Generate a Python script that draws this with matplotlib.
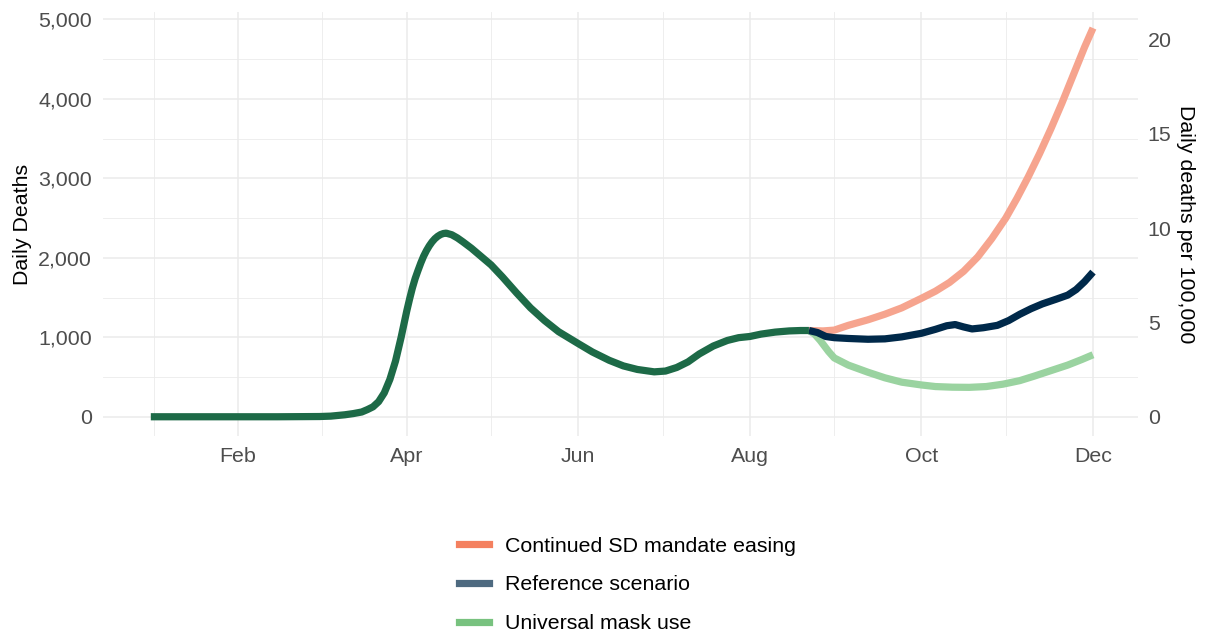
import numpy as np
import pandas as pd
import matplotlib
matplotlib.use("Agg")
import matplotlib.pyplot as plt
import matplotlib.dates as mdates
from matplotlib.lines import Line2D
from matplotlib.ticker import FuncFormatter

plt.rcParams['font.family'] = ['Liberation Sans', 'DejaVu Sans']

# observed daily deaths (2020)
hist_dates = ["2020-01-01", "2020-01-15", "2020-02-01", "2020-02-15", "2020-03-01",
              "2020-03-05", "2020-03-10", "2020-03-13", "2020-03-16", "2020-03-18",
              "2020-03-20", "2020-03-22", "2020-03-24", "2020-03-26", "2020-03-28",
              "2020-03-29", "2020-03-30", "2020-03-31", "2020-04-01", "2020-04-02",
              "2020-04-03", "2020-04-04", "2020-04-05", "2020-04-06", "2020-04-07",
              "2020-04-08", "2020-04-09", "2020-04-10", "2020-04-11", "2020-04-12",
              "2020-04-13", "2020-04-14", "2020-04-15", "2020-04-17", "2020-04-19",
              "2020-04-21", "2020-04-24", "2020-04-27", "2020-05-01", "2020-05-05",
              "2020-05-10", "2020-05-15", "2020-05-20", "2020-05-25", "2020-06-01",
              "2020-06-06", "2020-06-12", "2020-06-17", "2020-06-22", "2020-06-28",
              "2020-07-02", "2020-07-06", "2020-07-10", "2020-07-14", "2020-07-19",
              "2020-07-24", "2020-07-28", "2020-08-01", "2020-08-05", "2020-08-10",
              "2020-08-15", "2020-08-19", "2020-08-22"]
hist_deaths = [0, 0, 0, 0, 3,
               8, 25, 40, 60, 90,
               125, 190, 300, 470, 700,
               850, 1000, 1165, 1330, 1480,
               1620, 1740, 1840, 1935, 2020,
               2090, 2150, 2200, 2240, 2270,
               2292, 2305, 2310, 2290, 2250,
               2200, 2120, 2030, 1910, 1760,
               1560, 1370, 1210, 1070, 920,
               815, 710, 640, 595, 565,
               575, 620, 690, 790, 890,
               960, 995, 1010, 1040, 1065,
               1080, 1085, 1085]

# scenario projections
easing_dates = ["2020-08-22", "2020-08-27", "2020-08-31", "2020-09-05", "2020-09-12",
                "2020-09-18", "2020-09-24", "2020-10-01", "2020-10-06", "2020-10-11",
                "2020-10-16", "2020-10-21", "2020-10-26", "2020-10-31", "2020-11-04",
                "2020-11-08", "2020-11-12", "2020-11-16", "2020-11-20", "2020-11-24",
                "2020-11-28", "2020-12-01"]
easing_deaths = [1085, 1080, 1090, 1150, 1220,
                 1290, 1370, 1490, 1580, 1690,
                 1830, 2010, 2240, 2500, 2750,
                 3020, 3310, 3620, 3950, 4300,
                 4650, 4890]

ref_dates = ["2020-08-22", "2020-08-25", "2020-08-28", "2020-08-31", "2020-09-05",
             "2020-09-12", "2020-09-18", "2020-09-24", "2020-10-01", "2020-10-06",
             "2020-10-10", "2020-10-13", "2020-10-16", "2020-10-19", "2020-10-23",
             "2020-10-28", "2020-11-01", "2020-11-05", "2020-11-09", "2020-11-13",
             "2020-11-18", "2020-11-22", "2020-11-25", "2020-11-28", "2020-12-01"]
ref_deaths = [1085, 1060, 1010, 995, 985,
              975, 980, 1005, 1050, 1100,
              1145, 1160, 1130, 1105, 1120,
              1150, 1210, 1290, 1360, 1420,
              1480, 1530, 1600, 1700, 1820]

mask_dates = ["2020-08-22", "2020-08-24", "2020-08-26", "2020-08-29", "2020-08-31",
              "2020-09-05", "2020-09-12", "2020-09-18", "2020-09-24", "2020-10-01",
              "2020-10-06", "2020-10-12", "2020-10-18", "2020-10-24", "2020-10-30",
              "2020-11-05", "2020-11-10", "2020-11-16", "2020-11-22", "2020-11-27",
              "2020-12-01"]
mask_deaths = [1085, 1040, 960, 820, 740,
               650, 560, 490, 435, 400,
               380, 372, 370, 380, 410,
               455, 510, 580, 650, 720,
               780]

scenario_labels = ["Continued SD mandate easing", "Reference scenario", "Universal mask use"]
deaths_per_100k = 237.4  # deaths that make 1 per 100,000

W, H = 1205, 634
fs = 15.4
fig = plt.figure(figsize=(W / 100, H / 100), dpi=100)
ax = fig.add_axes([103 / W, 1 - 436 / H, (1138 - 103) / W, (436 - 12) / H])

ax.plot(pd.to_datetime(easing_dates), easing_deaths, color='#F6A48E', lw=5.2,
        solid_capstyle='butt', solid_joinstyle='round', zorder=3)
ax.plot(pd.to_datetime(mask_dates), mask_deaths, color='#9AD3A0', lw=5.2,
        solid_capstyle='butt', solid_joinstyle='round', zorder=3)
ax.plot(pd.to_datetime(ref_dates), ref_deaths, color='#00294A', lw=5.2,
        solid_capstyle='butt', solid_joinstyle='round', zorder=4)
ax.plot(pd.to_datetime(hist_dates), hist_deaths, color='#1D6A47', lw=5.2,
        solid_capstyle='butt', solid_joinstyle='round', zorder=5)

ax.set_xlim(pd.Timestamp("2019-12-15"), pd.Timestamp("2020-12-17"))
ax.set_ylim(-242, 5092)

major_x = pd.to_datetime(["2020-02-01", "2020-04-01", "2020-06-01",
                          "2020-08-01", "2020-10-01", "2020-12-01"])
minor_x = pd.to_datetime(["2020-01-02", "2020-03-02", "2020-05-01",
                          "2020-07-01", "2020-08-31", "2020-10-31"])
ax.set_xticks(major_x)
ax.set_xticks(minor_x, minor=True)
ax.xaxis.set_major_formatter(mdates.DateFormatter('%b'))
ax.set_yticks([0, 1000, 2000, 3000, 4000, 5000])
ax.set_yticks([500, 1500, 2500, 3500, 4500], minor=True)
ax.yaxis.set_major_formatter(FuncFormatter(lambda v, p: f"{int(v):,}"))

ax.grid(which='major', color='#EBEBEB', lw=1.1)
ax.grid(which='minor', color='#EBEBEB', lw=0.6)
ax.set_axisbelow(True)
for s in ax.spines.values():
    s.set_visible(False)
ax.tick_params(which='both', length=0, labelsize=fs, colors='#4D4D4D')
ax.tick_params(axis='x', pad=8)
ax.tick_params(axis='y', pad=8)
ax.set_ylabel("Daily Deaths", fontsize=fs, color='black', labelpad=4)

sec = ax.secondary_yaxis('right', functions=(lambda d: d / deaths_per_100k,
                                             lambda r: r * deaths_per_100k))
sec.set_yticks([0, 5, 10, 15, 20])
sec.tick_params(length=0, labelsize=fs, colors='#4D4D4D', pad=7)
for s in sec.spines.values():
    s.set_visible(False)
sec.set_ylabel("Daily deaths per 100,000", fontsize=fs, color='black',
               rotation=-90, va='bottom', labelpad=3)

handles = [Line2D([], [], color=c, lw=5.2) for c in ['#F4805F', '#4E6A80', '#78C27F']]
fig.legend(handles, scenario_labels, loc='center left',
           bbox_to_anchor=(459 / W, 1 - 585 / H), frameon=False, fontsize=fs,
           handlelength=1.42, handletextpad=0.72, labelspacing=0.92,
           borderpad=0, borderaxespad=0)

fig.savefig("out.png", dpi=100)
